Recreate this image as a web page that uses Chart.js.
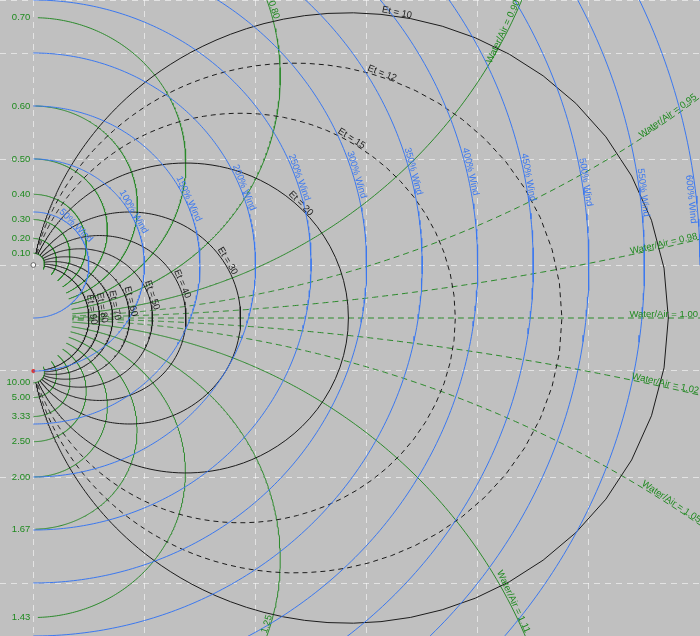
<!DOCTYPE html>
<html>
<head>
<meta charset="utf-8">
<script src="https://cdn.jsdelivr.net/npm/chart.js@4.4.1/dist/chart.umd.min.js"></script>
<style>
html,body{margin:0;padding:0;background:#c0c0c0;}
#wrap{width:700px;height:636px;}
</style>
</head>
<body>
<div id="wrap"><canvas id="c" width="700" height="636"></canvas></div>
<script>
// ---------------- values ----------------
const waterAirRatios = [0.10,0.20,0.30,0.40,0.50,0.60,0.70,0.80,0.90,0.95,0.98,1.00,1.02,1.05,1.11,1.25,1.43,1.67,2.00,2.50,3.33,5.00,10.00];
const dashedRatios   = [0.95,0.98,1.00,1.02,1.05];
const edgeLabelRatios = [0.10,0.20,0.30,0.40,0.50,0.60,0.70,1.43,1.67,2.00,2.50,3.33,5.00,10.00];
const exitLabelRatios = [0.90,0.95,0.98,1.00,1.02,1.05,1.11];
const shortLabelRatios = [0.80,1.25];
const etValues   = [10,12,15,20,30,40,50,60,70,80,90];
const dashedEt   = [12,15];
const windPercents = [50,100,150,200,250,300,350,400,450,500,550,600,650];
const xGridTicks = [0,1,2,3,4,5,6];
const yGridTicks = [-3.5,-3,-2,-1,0,1,2,2.5];
const fociY = [0,-1];           // the two poles of the chart (water pole, air pole)

// ---------------- layout (not data) ----------------
const SIGMA_MAX = 110;              // green curves run from 0 to this angle (deg)
const RATIO_RANGE = [0.1, 10];      // black Et curves run between these ratios
const ET_LABEL_RATIO = 0.86;        // Et labels sit where the curve meets this ratio
const windLabelAngles = [44,29,24,21,19,16.3,14.5,12.6,10.5,8.9,7.1,5.9,null];
const windLabelShiftPx = [0,0,0,0,0,0,0,0,0,0,0,-9,0];

const GREEN = '#2b8a2b', GREEN_TXT = '#1f8a1f';
const BLUE = '#3b78f0';
const BLACK = '#1c1c1c';
const FONT = '9.5px "Liberation Sans", Arial, sans-serif';

// ---------------- geometry helpers ----------------
const D = Math.PI/180;
const half = (fociY[0]-fociY[1])/2, mid = (fociY[0]+fociY[1])/2;
function bipolar(k, sigDeg){
  const t = -Math.log(k), s = sigDeg*D;
  const d = Math.cosh(t) - Math.cos(s);
  return {x: half*Math.sin(s)/d, y: mid + half*Math.sinh(t)/d};
}
function ratioCurve(k){
  const pts=[], N=700, s0=0.3;
  for(let i=0;i<=N;i++) pts.push(bipolar(k, s0+(SIGMA_MAX-s0)*i/N));
  return pts;
}
function etCurve(et){
  const pts=[], N=320, a=Math.log10(RATIO_RANGE[0]), b=Math.log10(RATIO_RANGE[1]);
  for(let i=0;i<=N;i++) pts.push(bipolar(Math.pow(10, a+(b-a)*i/N), et));
  return pts;
}
function windPoint(w, angDeg){
  const r = w/100;
  return {x: r*Math.cos(angDeg*D), y: fociY[0] + r*Math.sin(angDeg*D)};
}
function windCurve(w){
  const pts=[], N=260;
  for(let i=0;i<=N;i++) pts.push(windPoint(w, 90-180*i/N));
  return pts;
}

// ---------------- datasets ----------------
const datasets = [];
datasets.push({label:'water pole', data:[{x:0,y:fociY[0]}], showLine:false, pointRadius:2.4,
  pointBackgroundColor:'#ffffff', pointBorderColor:'#666666', pointBorderWidth:1, order:0});
windPercents.forEach(w=>datasets.push({label:w+'% Wind', data:windCurve(w), showLine:true, pointRadius:0,
  borderColor:BLUE, borderWidth:1, order:1}));
etValues.forEach(e=>datasets.push({label:'Et = '+e, data:etCurve(e), showLine:true, pointRadius:0,
  borderColor:BLACK, borderWidth:1, borderDash: dashedEt.includes(e)?[5,4]:[], order:2}));
waterAirRatios.forEach(k=>datasets.push({label:'Water/Air = '+k.toFixed(2), data:ratioCurve(k), showLine:true, pointRadius:0,
  borderColor:GREEN, borderWidth:1, borderDash: dashedRatios.includes(k)?[6,4]:[], order:3}));
datasets.push({label:'air pole', data:[{x:0,y:fociY[1]}], showLine:false, pointRadius:2,
  pointBackgroundColor:'#e03030', pointBorderColor:'#e03030', pointBorderWidth:0, order:4});

// ---------------- plugins ----------------
const bgPlugin = {
  id:'bg',
  beforeDraw(chart){
    const c=chart.ctx; c.save(); c.fillStyle='#c0c0c0'; c.fillRect(0,0,chart.width,chart.height); c.restore();
  }
};

function px(chart,p){ return {x:chart.scales.x.getPixelForValue(p.x), y:chart.scales.y.getPixelForValue(p.y)}; }
function rotText(ctx, txt, x, y, ang, align, color, dy){
  ctx.save(); ctx.translate(x,y); ctx.rotate(ang);
  ctx.textAlign=align; ctx.textBaseline='alphabetic'; ctx.fillStyle=color;
  ctx.fillText(txt, 0, dy); ctx.restore();
}

const labelPlugin = {
  id:'labels',
  afterDatasetsDraw(chart){
    const ctx=chart.ctx, a=chart.chartArea;
    ctx.save();
    ctx.beginPath(); ctx.rect(a.left,a.top,a.right-a.left,a.bottom-a.top); ctx.clip();
    ctx.font = FONT;

    // wind labels
    windPercents.forEach((w,i)=>{
      const ang = windLabelAngles[i]; if(ang==null) return;
      const p = px(chart, windPoint(w,ang)), q = px(chart, windPoint(w,ang-0.5));
      rotText(ctx, w+'% Wind', p.x+windLabelShiftPx[i], p.y, Math.atan2(q.y-p.y,q.x-p.x), 'center', BLUE, -1);
    });

    // Et labels
    etValues.forEach(e=>{
      const p = px(chart, bipolar(ET_LABEL_RATIO, e)), q = px(chart, bipolar(ET_LABEL_RATIO*1.02, e));
      rotText(ctx, 'Et = '+e, p.x, p.y, Math.atan2(q.y-p.y,q.x-p.x), 'center', BLACK, -1);
    });

    // ratio labels on the left edge, where each circle meets the pole axis
    ctx.fillStyle = GREEN_TXT; ctx.textAlign='right'; ctx.textBaseline='middle';
    edgeLabelRatios.forEach(k=>{
      const p = px(chart, bipolar(k, 0.0001));
      ctx.fillText(k.toFixed(2), px(chart,{x:0,y:0}).x-3, p.y);
    });

    // ratio labels where a circle enters the view
    const inset=2;
    const inside = p => p.x>=a.left+inset && p.x<=a.right-inset && p.y>=a.top+inset && p.y<=a.bottom-inset;
    function entry(k){
      const pts = ratioCurve(k).map(p=>px(chart,p));
      for(let i=1;i<pts.length;i++){
        if(!inside(pts[i-1]) && inside(pts[i])){
          let lo=0, hi=1; const A=pts[i-1], B=pts[i];
          for(let j=0;j<30;j++){ const m=(lo+hi)/2; const P={x:A.x+(B.x-A.x)*m,y:A.y+(B.y-A.y)*m}; if(inside(P)) hi=m; else lo=m; }
          const P={x:A.x+(B.x-A.x)*hi,y:A.y+(B.y-A.y)*hi};
          const C = pts[Math.min(i+3,pts.length-1)];
          return {p:P, d:Math.atan2(C.y-P.y, C.x-P.x)};
        }
      }
      return null;
    }
    exitLabelRatios.forEach(k=>{
      const e = entry(k); if(!e) return;
      rotText(ctx, 'Water/Air = '+k.toFixed(2), e.p.x, e.p.y, e.d+Math.PI, 'right', GREEN_TXT, -1);
    });
    shortLabelRatios.forEach(k=>{
      const e = entry(k); if(!e) return;
      rotText(ctx, k.toFixed(2), e.p.x, e.p.y, e.d, 'left', GREEN_TXT, -1);
    });
    ctx.restore();
  }
};

const gridStyle = {color:'rgba(255,255,255,0.55)', lineWidth:1, drawTicks:false};
new Chart(document.getElementById('c'), {
  type:'scatter',
  data:{datasets},
  options:{
    responsive:false, animation:false, events:[],
    parsing:false, normalized:true,
    layout:{padding:0, autoPadding:false},
    plugins:{legend:{display:false}, tooltip:{enabled:false}, title:{display:false}},
    scales:{
      x:{type:'linear', min:-0.3, max:6.0,
         afterBuildTicks:s=>{ s.ticks = xGridTicks.map(v=>({value:v})); },
         ticks:{display:false}, grid:gridStyle, border:{display:false, dash:[6,5]}},
      y:{type:'linear', min:-3.5, max:2.5,
         afterBuildTicks:s=>{ s.ticks = yGridTicks.map(v=>({value:v})); },
         ticks:{display:false}, grid:gridStyle, border:{display:false, dash:[6,5]}}
    }
  },
  plugins:[bgPlugin, labelPlugin]
});
</script>
</body>
</html>
